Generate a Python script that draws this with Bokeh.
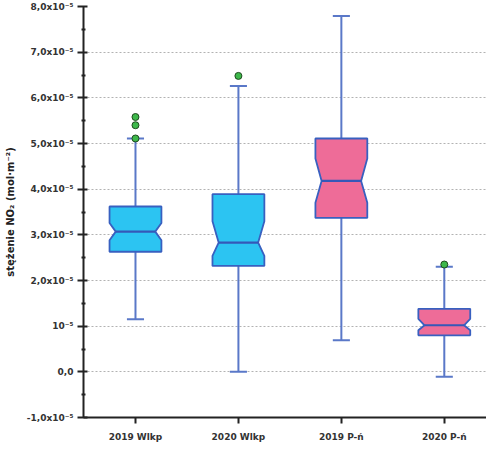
from bokeh.plotting import figure
from bokeh.models import FixedTicker, Range1d
from bokeh.embed import file_html
from bokeh.resources import INLINE

# ---- data (units of 1e-5 mol/m^2) ----
categories = ["2019 Wlkp", "2020 Wlkp", "2019 P-ń", "2020 P-ń"]
q1 = [2.63, 2.32, 3.37, 0.80]
q3 = [3.62, 3.89, 5.11, 1.38]
median = [3.07, 2.83, 4.18, 1.02]
notch_lo = [2.88, 2.54, 3.70, 0.91]
notch_hi = [3.26, 3.30, 4.67, 1.16]
whisker_lo = [1.15, 0.00, 0.69, -0.11]
whisker_hi = [5.11, 6.26, 7.79, 2.30]
outlier_cat = [1, 1, 1, 2, 4]
outlier_val = [5.58, 5.40, 5.11, 6.48, 2.35]
box_colors = ["#2CC4F2", "#2CC4F2", "#EE6C98", "#EE6C98"]

y_ticks = [-1, 0, 1, 2, 3, 4, 5, 6, 7, 8]
y_tick_labels = ["-1,0x10⁻⁵", "0,0", "10⁻⁵", "2,0x10⁻⁵", "3,0x10⁻⁵",
                 "4,0x10⁻⁵", "5,0x10⁻⁵", "6,0x10⁻⁵", "7,0x10⁻⁵", "8,0x10⁻⁵"]
y_minor = [-0.5, 0.5, 1.5, 2.5, 3.5, 4.5, 5.5, 6.5, 7.5]

FONT = "DejaVu Sans"
W = 0.252    # half box width (category units)
N = 0.06     # notch inset
CAP = 0.083  # half cap width

p = figure(width=486, height=444, output_backend="svg", toolbar_location=None,
           x_range=Range1d(0.495, 4.41), y_range=Range1d(-1, 8),
           min_border_left=83, min_border_top=6, min_border_right=0, min_border_bottom=26)
p.outline_line_color = None
p.xgrid.grid_line_color = None
p.ygrid.grid_line_color = "#B2B2B2"
p.ygrid.grid_line_dash = "2 2"
p.ygrid.grid_line_width = 1

xs = list(range(1, len(categories) + 1))

# whiskers
p.segment(x0=xs, y0=q3, x1=xs, y1=whisker_hi, line_color="#5A78C8", line_width=2)
p.segment(x0=xs, y0=q1, x1=xs, y1=whisker_lo, line_color="#5A78C8", line_width=2)
p.segment(x0=[x - CAP for x in xs], y0=whisker_hi, x1=[x + CAP for x in xs], y1=whisker_hi,
          line_color="#5A78C8", line_width=2)
p.segment(x0=[x - CAP for x in xs], y0=whisker_lo, x1=[x + CAP for x in xs], y1=whisker_lo,
          line_color="#5A78C8", line_width=2)

# notched boxes
pxs, pys = [], []
for i, c in enumerate(xs):
    pxs.append([c - W, c + W, c + W, c + W - N, c + W, c + W, c - W, c - W, c - W + N, c - W])
    pys.append([q3[i], q3[i], notch_hi[i], median[i], notch_lo[i], q1[i], q1[i],
                notch_lo[i], median[i], notch_hi[i]])
p.patches(xs=pxs, ys=pys, fill_color=box_colors, line_color="#3860C0", line_width=1.8)

# medians
p.segment(x0=[x - W + N for x in xs], y0=median, x1=[x + W - N for x in xs], y1=median,
          line_color="#3558B8", line_width=2.2)

# outliers
p.scatter(x=outlier_cat, y=outlier_val, size=7, fill_color="#3DB84A", line_color="#1E4A1E",
          line_width=1)

# axes
p.yaxis.ticker = FixedTicker(ticks=y_ticks, minor_ticks=y_minor)
p.yaxis.major_label_overrides = {t: l for t, l in zip(y_ticks, y_tick_labels)}
p.xaxis.ticker = FixedTicker(ticks=xs)
p.xaxis.major_label_overrides = {x: c for x, c in zip(xs, categories)}

for ax in (p.xaxis[0], p.yaxis[0]):
    ax.axis_line_color = "#222222"
    ax.axis_line_width = 2
    ax.major_tick_line_color = "#222222"
    ax.major_tick_line_width = 2
    ax.minor_tick_line_color = "#222222"
    ax.minor_tick_line_width = 2
    ax.major_label_text_font = FONT
    ax.major_label_text_font_style = "bold"
    ax.major_label_text_font_size = "9px"
    ax.major_label_text_color = "#333333"

p.yaxis.major_tick_out = 6
p.yaxis.major_tick_in = 4
p.yaxis.minor_tick_out = 2
p.yaxis.minor_tick_in = 2
p.yaxis.major_label_standoff = 4
p.yaxis.axis_label = "stężenie NO₂ (mol·m⁻²)"
p.yaxis.axis_label_text_font = FONT
p.yaxis.axis_label_text_font_style = "bold"
p.yaxis.axis_label_text_font_size = "10px"
p.yaxis.axis_label_text_color = "#222222"
p.yaxis.axis_label_standoff = 8

p.xaxis.major_tick_out = 6
p.xaxis.major_tick_in = 0
p.xaxis.minor_tick_out = 0
p.xaxis.minor_tick_in = 0
p.xaxis.major_label_standoff = 8

open("out.html", "w").write(file_html(p, INLINE))
